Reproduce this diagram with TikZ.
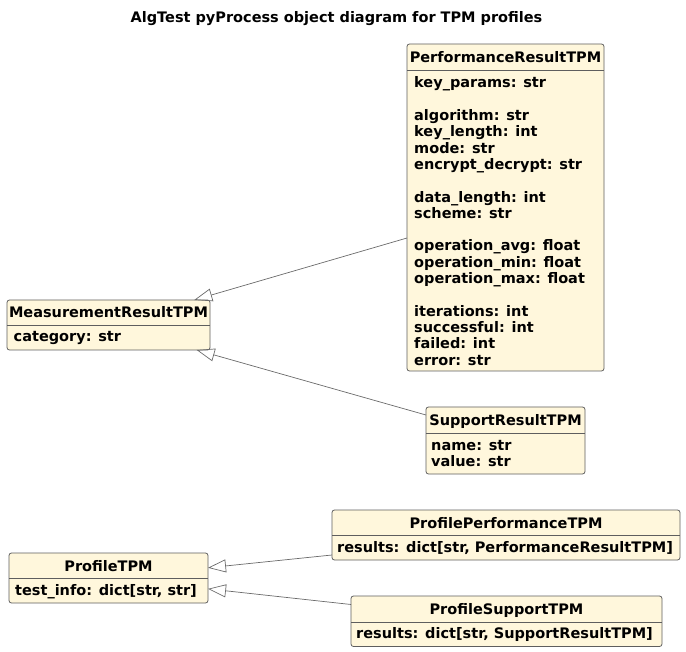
\documentclass[tikz,border=0pt]{standalone}
\usepackage{fontspec}
\setmainfont{DejaVu Sans}
\usetikzlibrary{arrows.meta}
\definecolor{classfill}{HTML}{FFF7DC}
\definecolor{classdraw}{HTML}{5E5E5E}
\definecolor{linkdraw}{HTML}{6A6A6A}
\newcommand{\myfont}{\fontsize{14.5}{16.33}\selectfont\bfseries}
\newcommand{\st}{\rule{0pt}{12pt}}
\begin{document}
\begin{tikzpicture}[x=1pt,y=-1pt,
  classbox/.style={draw=classdraw, line width=0.8pt, fill=classfill, rounded corners=2.5pt, inner sep=0pt, outer sep=0pt},
  sepline/.style={draw=classdraw, line width=0.8pt},
  hdr/.style={anchor=base, inner sep=0pt, font=\myfont},
  attr/.style={anchor=north west, inner sep=0pt, align=left, font=\myfont},
  inherit/.style={draw=linkdraw, line width=0.7pt, -{Triangle[open, length=18pt, width=13pt]}},
]
\useasboundingbox (0,0) rectangle (686,652);

\node (title) [hdr] at (336.5,23) {AlgTest pyProcess object diagram for TPM profiles};

% PerformanceResultTPM
\node (perf) [classbox, minimum width=197pt, minimum height=327pt] at (505.5,207.5) {};
\draw[sepline] (perf.west |- 0,70.5) -- (perf.east |- 0,70.5);
\node (perfh) [hdr] at (505.5,62.5) {PerformanceResultTPM};
\node (perfa) [attr] at (414,75.5) {\st key\_params: str\\\mbox{}\\algorithm: str\\key\_length: int\\mode: str\\encrypt\_decrypt: str\\\mbox{}\\data\_length: int\\scheme: str\\\mbox{}\\operation\_avg: float\\operation\_min: float\\operation\_max: float\\\mbox{}\\iterations: int\\successful: int\\failed: int\\error: str};

% MeasurementResultTPM
\node (meas) [classbox, minimum width=203pt, minimum height=50pt] at (108.5,325) {};
\draw[sepline] (meas.west |- 0,325) -- (meas.east |- 0,325);
\node (meash) [hdr] at (108.5,318) {MeasurementResultTPM};
\node (measa) [attr] at (13.5,329.5) {\st category: str};

% SupportResultTPM
\node (supp) [classbox, minimum width=159pt, minimum height=67pt] at (505.5,440.5) {};
\draw[sepline] (supp.west |- 0,433.5) -- (supp.east |- 0,433.5);
\node (supph) [hdr] at (505.5,425.5) {SupportResultTPM};
\node (suppa) [attr] at (431,438) {\st name: str\\value: str};

% ProfilePerformanceTPM
\node (pp) [classbox, minimum width=348pt, minimum height=50pt] at (506,535) {};
\draw[sepline] (pp.west |- 0,535.5) -- (pp.east |- 0,535.5);
\node (pph) [hdr] at (506,528) {ProfilePerformanceTPM};
\node (ppa) [attr] at (337,540) {\st results: dict[str, PerformanceResultTPM]};

% ProfileTPM
\node (prof) [classbox, minimum width=199pt, minimum height=50pt] at (108.5,578) {};
\draw[sepline] (prof.west |- 0,578.5) -- (prof.east |- 0,578.5);
\node (profh) [hdr] at (108.5,571) {ProfileTPM};
\node (profa) [attr] at (15,583) {\st test\_info: dict[str, str]};

% ProfileSupportTPM
\node (ps) [classbox, minimum width=311pt, minimum height=50.5pt] at (506.5,621.25) {};
\draw[sepline] (ps.west |- 0,622) -- (ps.east |- 0,622);
\node (psh) [hdr] at (506.5,614) {ProfileSupportTPM};
\node (psa) [attr] at (356,626.5) {\st results: dict[str, SupportResultTPM]};

% inheritance
\draw[inherit] ([yshift=-30.5pt]perf.west) -- (meas);
\draw[inherit] ([yshift=25.5pt]supp.west) -- (meas);
\draw[inherit] ([yshift=-20pt]pp.west) -- (prof);
\draw[inherit] ([yshift=16.75pt]ps.west) -- (prof);
\end{tikzpicture}
\end{document}
